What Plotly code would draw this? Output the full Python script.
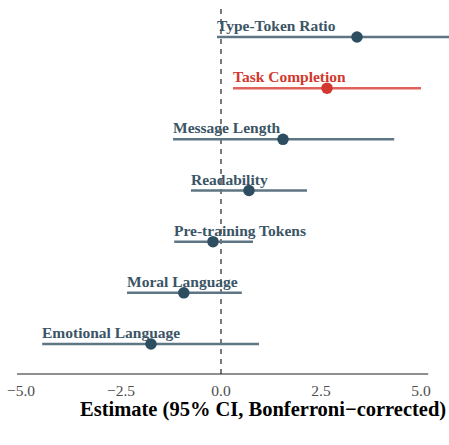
import plotly.graph_objects as go

# Datos (de abajo hacia arriba)
features = ['Emotional Language', 'Moral Language', 'Pre-training Tokens', 'Readability',
            'Message Length', 'Task Completion', 'Type-Token Ratio']
estimate = [-1.75, -0.93, -0.2, 0.7, 1.55, 2.65, 3.4]
ci_low = [-4.47, -2.35, -1.17, -0.75, -1.2, 0.3, -0.1]
ci_high = [0.95, 0.52, 0.8, 2.15, 4.33, 5.0, 5.9]
highlight = 'Task Completion'

dark = '#2d4e60'
line_dark = '#5e7583'
red = '#d2382d'
line_red = '#e0625a'
font_fam = 'Liberation Serif, Times New Roman, serif'

fig = go.Figure()

for i, name in enumerate(features):
    y = i + 1
    is_hl = name == highlight
    pc = red if is_hl else dark
    lc = line_red if is_hl else line_dark
    # intervalo de confianza
    fig.add_trace(go.Scatter(
        x=[ci_low[i], ci_high[i]], y=[y, y], mode='lines',
        line=dict(color=lc, width=2.5), showlegend=False, hoverinfo='skip',
    ))
    # estimacion puntual
    fig.add_trace(go.Scatter(
        x=[estimate[i]], y=[y], mode='markers',
        marker=dict(color=pc, size=11.5), showlegend=False,
        hovertemplate=f'{name}: %{{x}}<extra></extra>',
    ))
    # etiqueta encima de la linea
    fig.add_annotation(
        x=ci_low[i], y=y, text=f'<b>{name}</b>', showarrow=False,
        xanchor='left', yanchor='bottom', yshift=1, xshift=-2,
        font=dict(family=font_fam, size=15.5, color=red if is_hl else '#3b5566'),
    )

# linea de referencia en cero
fig.add_shape(type='line', x0=0, x1=0, y0=0, y1=1, yref='paper', layer='below',
              line=dict(color='#333333', width=1.3, dash='5px,5px'))
# eje x (linea base)
fig.add_shape(type='line', x0=-5.1, x1=5.18, y0=0, y1=0, yref='paper',
              line=dict(color='#222222', width=1.2))

# titulo del eje
fig.add_annotation(
    x=1, xref='paper', xanchor='right', xshift=-1, y=-0.098, yref='paper', yanchor='middle',
    text='<b>Estimate (95% CI, Bonferroni\u2212corrected)</b>', showarrow=False,
    font=dict(family=font_fam, size=20.5, color='black'),
)

fig.update_layout(
    width=449, height=445,
    margin=dict(l=17, r=0, t=7, b=71),
    plot_bgcolor='white', paper_bgcolor='white',
    font=dict(family=font_fam),
)
fig.update_xaxes(
    range=[-5.1, 5.7], tickvals=[-5, -2.5, 0, 2.5, 5],
    ticktext=['\u22125.0', '\u22122.5', '0.0', '2.5', '5.0'],
    showgrid=False, zeroline=False, showline=False, ticks='',
    ticklabelstandoff=5,
    tickfont=dict(family=font_fam, size=15.5, color='#4d4d4d'),
)
fig.update_yaxes(
    range=[0.414, 7.586], showticklabels=False, showgrid=False,
    zeroline=False, showline=False,
)

fig.write_html('out.html', config={'displayModeBar': False},
               post_script="document.body.style.margin='0px';")
